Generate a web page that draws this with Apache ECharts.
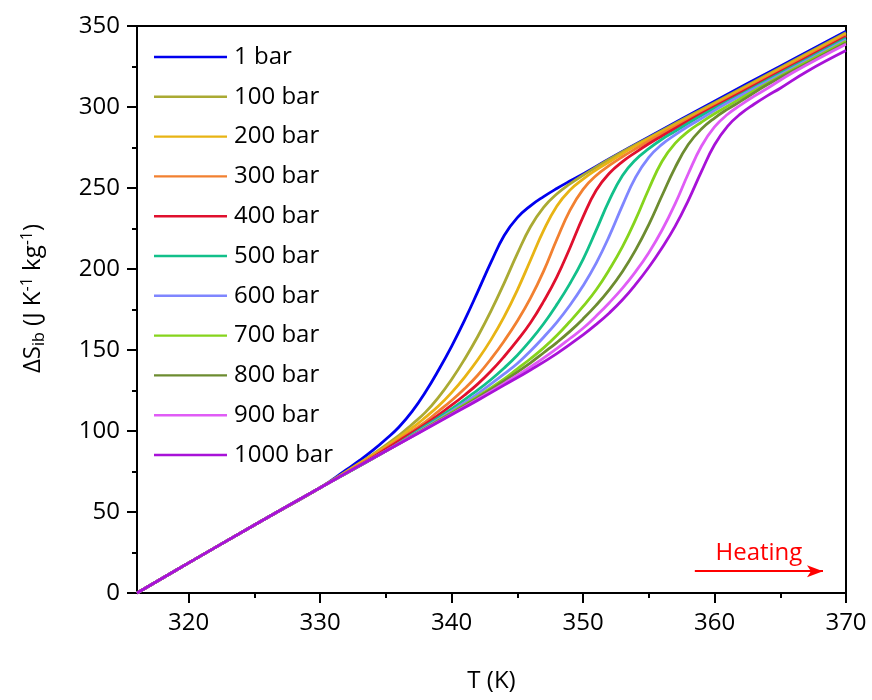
<!DOCTYPE html>
<html>
<head>
<meta charset="utf-8">
<title>Isobaric entropy change on heating</title>
<script src="https://cdn.jsdelivr.net/npm/echarts/dist/echarts.min.js"></script>
<style>
  html, body { margin: 0; padding: 0; background: #fff; }
  #chart { width: 872px; height: 700px; }
</style>
</head>
<body>
<div id="chart"></div>
<script>
// Legend labels, one per isobar
const pressures = ['1 bar', '100 bar', '200 bar', '300 bar', '400 bar', '500 bar',
                   '600 bar', '700 bar', '800 bar', '900 bar', '1000 bar'];

// Axis ticks
const xMajorTicks = [320, 330, 340, 350, 360, 370];
const xMinorTicks = [325, 335, 345, 355, 365];

// ΔS_ib (J K^-1 kg^-1) against T (K), one [T, ΔS] list per pressure
const s1bar = [[316.07,0],[320,18.6],[325,42.0],[330,65.0],[332,76.1],[333,81.8],[334,88.0],[335,94.9],[336,102.5],[337,112.1],[338,123.9],[339,137.5],[340,152.3],[341,168.6],[342,186.2],[343,204.2],[344,220.7],[345,231.7],[346,239.0],[347,244.7],[348,249.7],[349,254.3],[350,258.7],[352,268.0],[355,281.5],[360,303.6],[365,325.2],[370,346.7]];
const s100bar = [[316.07,0],[320,18.6],[325,42.0],[330,65.0],[332,75.1],[334,85.6],[336,97.3],[337,104.2],[338,111.5],[339,120.8],[340,131.8],[341,144.5],[342,158.5],[343,174.1],[344,191.3],[345,209.5],[346,226.1],[347,238.1],[348,246.3],[349,252.5],[350,257.9],[352,267.8],[355,281.1],[360,302.7],[365,324.3],[370,345.8]];
const s200bar = [[316.07,0],[320,18.6],[325,42.0],[330,65.0],[333,79.9],[335,90.3],[337,101.9],[338,108.4],[339,115.4],[340,123.7],[341,133.3],[342,144.1],[343,156.4],[344,170.6],[345,187.0],[346,205.4],[347,223.8],[348,238.8],[349,248.7],[350,255.5],[351,261.2],[352,266.2],[354,276.0],[357,288.9],[360,301.9],[365,323.5],[370,345.0]];
const s300bar = [[316.07,0],[320,18.6],[325,42.0],[330,65.0],[334,84.4],[336,94.6],[338,105.7],[339,112.2],[340,118.8],[341,126.2],[342,134.6],[343,144.5],[344,155.6],[345,167.9],[346,182.0],[347,198.7],[348,218.2],[349,236.2],[350,249.2],[351,257.7],[352,263.9],[353,269.3],[354,274.2],[356,283.7],[358,292.3],[360,301.0],[365,322.6],[370,344.2]];
const s400bar = [[316.07,0],[320,18.6],[325,42.0],[330,65.0],[333,78.6],[336,93.9],[338,104.2],[340,115.9],[341,122.2],[342,129.1],[343,137.0],[344,146.0],[345,155.9],[346,166.8],[347,180.0],[348,195.0],[349,213.0],[350,232.2],[351,248.6],[352,259.1],[353,266.3],[354,272.0],[355,277.3],[356,282.1],[358,291.4],[360,300.1],[365,321.7],[370,343.3]];
const s500bar = [[316.07,0],[320,18.6],[325,42.0],[330,65.0],[335,87.6],[338,103.1],[340,113.6],[342,125.4],[343,131.8],[344,138.9],[345,146.8],[346,155.9],[347,166.2],[348,178.0],[349,191.0],[350,206.0],[351,224.0],[352,242.5],[353,257.7],[354,267.5],[355,274.3],[356,280.1],[357,285.0],[359,294.8],[362,307.8],[366,325.1],[370,342.4]];
const s600bar = [[316.07,0],[320,18.6],[325,42.0],[330,65.0],[335,87.6],[338,102.2],[340,112.3],[342,123.1],[344,135.3],[345,141.7],[346,149.4],[347,157.9],[348,167.1],[349,177.6],[350,189.6],[351,203.6],[352,220.4],[353,239.3],[354,256.7],[355,268.9],[356,276.9],[357,282.8],[358,288.1],[359,292.9],[361,302.6],[365,319.9],[370,341.5]];
const s700bar = [[316.07,0],[320,18.6],[325,42.0],[330,65.0],[335,87.6],[338,101.8],[340,111.4],[342,121.4],[344,132.2],[345,138.4],[346,144.6],[347,151.3],[348,158.9],[349,167.6],[350,176.9],[351,187.2],[352,199.7],[353,213.8],[354,230.6],[355,249.4],[356,266.4],[357,277.5],[358,284.9],[359,290.6],[360,295.8],[362,305.3],[365,319.0],[370,340.6]];
const s800bar = [[316.07,0],[320,18.6],[325,42.0],[330,65.0],[335,87.6],[340,110.9],[342,120.6],[344,130.9],[346,142.1],[347,148.3],[348,154.6],[349,161.5],[350,169.2],[351,177.7],[352,187.3],[353,198.5],[354,211.8],[355,227.4],[356,245.2],[357,262.6],[358,276.8],[359,286.4],[360,293.2],[361,298.7],[362,303.6],[364,313.7],[367,326.7],[370,339.7]];
const s900bar = [[316.07,0],[320,18.6],[325,42.0],[330,65.0],[335,87.6],[340,110.4],[342,119.7],[344,129.4],[346,139.6],[348,150.9],[349,157.1],[350,163.4],[351,171.0],[352,179.2],[353,188.2],[354,198.4],[355,210.1],[356,223.9],[357,240.2],[358,258.8],[359,275.8],[360,287.7],[361,295.5],[362,301.3],[363,306.6],[364,311.4],[366,321.5],[370,338.8]];
const s1000bar = [[316.07,0],[320,18.6],[325,42.0],[330,65.0],[335,87.6],[340,110.0],[342,119.0],[344,128.3],[346,137.7],[348,147.8],[350,159.4],[351,165.8],[352,172.9],[353,181.0],[354,190.5],[355,201.1],[356,213.0],[357,226.3],[358,242.2],[359,260.1],[360,276.7],[361,288.2],[362,295.9],[363,301.7],[364,306.9],[365,311.6],[367,321.8],[370,334.8]];

// "Heating" arrow, in data coordinates (T, ΔS)
const heatingArrow = [[358.5, 13.5], [368.25, 13.5]];

const curves = [s1bar, s100bar, s200bar, s300bar, s400bar, s500bar,
                s600bar, s700bar, s800bar, s900bar, s1000bar];
const colors = ['#0000ee', '#aaaa33', '#e8b414', '#f28030', '#e0102e', '#12c08a',
                '#7f86ff', '#86d41c', '#6d8c30', '#e05cf6', '#a812d8'];

const FONT = 'Open Sans';
const black = '#000';

const series = pressures.map((name, i) => ({
  name: name,
  type: 'line',
  data: curves[i],
  symbol: 'none',
  showSymbol: false,
  smooth: 0.45,
  lineStyle: { width: 2.8, color: colors[i] },
  itemStyle: { color: colors[i] },
  emphasis: { disabled: true },
  animation: false
}));

// red arrow and its label drawn as a mark line on the last isobar
series[series.length - 1].markLine = {
  silent: true,
  animation: false,
  symbol: ['none', 'arrow'],
  symbolSize: [9, 16],
  lineStyle: { color: '#ff0000', width: 2, type: 'solid' },
  label: {
    show: true,
    position: 'middle',
    formatter: 'Heating',
    color: '#ff0000',
    fontFamily: FONT,
    fontSize: 24,
    distance: 6
  },
  data: [[{ coord: heatingArrow[0] }, { coord: heatingArrow[1] }]]
};

const chart = echarts.init(document.getElementById('chart'), null, { renderer: 'canvas' });

chart.setOption({
  backgroundColor: '#fff',
  animation: false,
  textStyle: { fontFamily: FONT, color: black },
  grid: {
    left: 137, right: 26, top: 26, bottom: 104,
    show: true, borderColor: black, borderWidth: 2, backgroundColor: 'transparent'
  },
  legend: {
    orient: 'vertical',
    left: 149,
    top: 40,
    icon: 'rect',
    itemWidth: 73,
    itemHeight: 2.4,
    itemGap: 15.8,
    data: pressures,
    textStyle: { fontFamily: FONT, fontSize: 24, color: black, lineHeight: 24, padding: [0, 0, 0, 2] },
    selectedMode: false
  },
  xAxis: [{
    type: 'value',
    min: 316.07,
    max: 370,
    name: 'T (K)',
    nameLocation: 'middle',
    nameGap: 74,
    nameTextStyle: { fontFamily: FONT, fontSize: 24, color: black, lineHeight: 28 },
    axisLine: { show: true, onZero: false, lineStyle: { color: black, width: 2 } },
    axisTick: { show: true, length: 10, customValues: xMajorTicks, lineStyle: { color: black, width: 2 } },
    axisLabel: { customValues: xMajorTicks, fontFamily: FONT, fontSize: 24, color: black, margin: 16, lineHeight: 28 },
    splitLine: { show: false }
  }, {
    type: 'value',
    min: 316.07,
    max: 370,
    position: 'bottom',
    axisLine: { show: false },
    axisTick: { show: true, length: 5, customValues: xMinorTicks, lineStyle: { color: black, width: 2 } },
    axisLabel: { show: false },
    splitLine: { show: false }
  }],
  yAxis: {
    type: 'value',
    min: 0,
    max: 350,
    interval: 50,
    name: '{a|ΔS}{sub|ib}{a| (J K}{sup|-1}{a| kg}{sup|-1}{a|)}',
    nameLocation: 'middle',
    nameRotate: 90,
    nameGap: 90,
    nameTextStyle: {
      padding: [0, 0, 0, 22],
      rich: {
        a: { fontFamily: FONT, fontSize: 24, color: black, lineHeight: 28 },
        sub: { fontFamily: FONT, fontSize: 16, color: black, lineHeight: 12, verticalAlign: 'bottom' },
        sup: { fontFamily: FONT, fontSize: 16, color: black, lineHeight: 16, verticalAlign: 'top' }
      }
    },
    axisLine: { show: true, onZero: false, lineStyle: { color: black, width: 2 } },
    axisTick: { show: true, length: 10, lineStyle: { color: black, width: 2 } },
    minorTick: { show: true, splitNumber: 2, length: 5, lineStyle: { color: black, width: 2 } },
    axisLabel: { fontFamily: FONT, fontSize: 24, color: black, margin: 17 },
    splitLine: { show: false },
    minorSplitLine: { show: false }
  },
  series: series
});
</script>
</body>
</html>
